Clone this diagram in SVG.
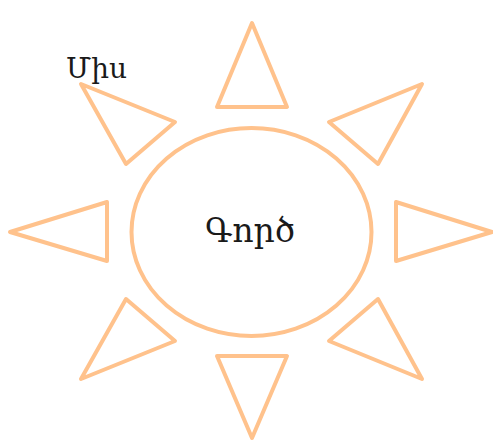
<svg xmlns="http://www.w3.org/2000/svg" width="493" height="443" viewBox="0 0 493 443">
<style>
.s{fill:none;stroke:#ffc28c;stroke-width:4;stroke-linejoin:round;stroke-linecap:round}
.t{font-family:"DejaVu Serif","Noto Sans",serif;fill:#1a1a1a}
</style>
<rect width="493" height="443" fill="#fff"/>
<g id="rays">
<polygon class="s" points="252,23 287,107 217,107"/>
<polygon class="s" points="422,84 329,122 378,164"/>
<polygon class="s" points="492,232 396,202 396,261"/>
<polygon class="s" points="422,379 378,299 329,341"/>
<polygon class="s" points="252,438 287,356 217,356"/>
<polygon class="s" points="81,379 126,299 175,341"/>
<polygon class="s" points="10,232 107,202 107,261"/>
<polygon class="s" points="81,84 175,122 126,164"/>
</g>
<g id="sun">
<ellipse class="s" cx="251.5" cy="232" rx="120" ry="104"/>
<text class="t" x="250" y="242" font-size="33" text-anchor="middle">Գործ</text>
</g>
<g id="label">
<text class="t" x="66" y="78" font-size="28">Միս</text>
</g>
</svg>
